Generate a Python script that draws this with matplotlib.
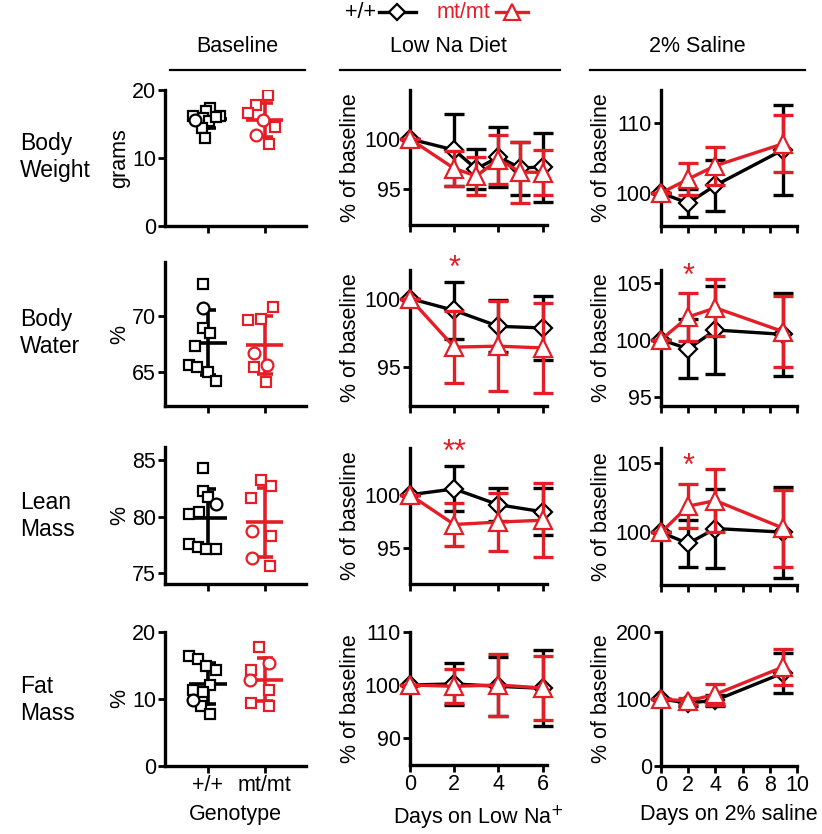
import matplotlib
matplotlib.use("Agg")
import matplotlib.pyplot as plt
import numpy as np
from matplotlib.lines import Line2D

plt.rcParams['font.family'] = ['Liberation Sans', 'DejaVu Sans']
RED = '#E41E26'
BLK = '#000000'
W, H = 822, 834

# ---------------- Data ----------------
genotypes = ['+/+', 'mt/mt']
# Baseline scatter (values, jitter offsets); squares and circles
bw_wt_sq = [17.4, 16.9, 16.2, 16.2, 15.9, 15.5, 14.4, 12.9, 16.0]
bw_wt_sq_dx = [0.03, -0.04, 0.21, -0.26, -0.08, 0.02, -0.11, -0.05, 0.14]
bw_wt_ci = [15.6]
bw_wt_ci_dx = [-0.23]
bw_mt_sq = [19.3, 17.8, 16.6, 14.6, 12.1]
bw_mt_sq_dx = [0.06, -0.15, -0.29, 0.18, 0.07]
bw_mt_ci = [15.6, 13.4]
bw_mt_ci_dx = [-0.03, -0.16]

wa_wt_sq = [72.8, 68.9, 68.5, 67.3, 65.6, 65.4, 65.0, 64.2]
wa_wt_sq_dx = [-0.08, -0.08, 0.03, -0.23, -0.33, -0.19, 0.0, 0.14]
wa_wt_ci = [70.7]
wa_wt_ci_dx = [-0.08]
wa_mt_sq = [70.8, 69.7, 69.6, 65.4, 64.1]
wa_mt_sq_dx = [0.15, -0.06, -0.29, -0.18, 0.03]
wa_mt_ci = [66.7, 65.6]
wa_mt_ci_dx = [-0.18, 0.04]

le_wt_sq = [84.3, 82.3, 81.7, 80.2, 80.4, 77.6, 77.3, 77.1, 77.1]
le_wt_sq_dx = [-0.08, -0.08, 0.0, -0.33, -0.16, -0.33, -0.17, -0.04, 0.14]
le_wt_ci = [81.1]
le_wt_ci_dx = [0.15]
le_mt_sq = [83.2, 82.7, 81.6, 78.3, 75.6]
le_mt_sq_dx = [-0.06, 0.12, -0.24, 0.12, 0.10]
le_mt_ci = [78.7, 76.3]
le_mt_ci_dx = [-0.23, -0.23]

fa_wt_sq = [16.4, 16.0, 15.0, 14.4, 12.1, 11.3, 11.0, 8.9, 7.7]
fa_wt_sq_dx = [-0.33, -0.18, -0.04, 0.14, 0.03, -0.27, -0.08, -0.12, 0.03]
fa_wt_ci = [9.9]
fa_wt_ci_dx = [-0.27]
fa_mt_sq = [17.7, 14.3, 11.4, 9.4, 9.0]
fa_mt_sq_dx = [-0.09, -0.24, 0.08, -0.24, 0.08]
fa_mt_ci = [15.4, 12.9]
fa_mt_ci_dx = [0.08, -0.26]

# Low Na diet time courses
lowna_days_bw = [0, 2, 3, 4, 5, 6]
lowna_days = [0, 2, 4, 6]
bw_lowna_wt = [100, 98.9, 97.0, 98.2, 97.1, 97.2]
bw_lowna_wt_err = [0, 3.6, 2.0, 3.0, 2.65, 3.45]
bw_lowna_mt = [100, 97.05, 96.3, 97.95, 96.7, 96.65]
bw_lowna_mt_err = [0, 1.75, 1.9, 2.45, 3.05, 2.25]

wa_lowna_wt = [100, 99.13, 97.96, 97.84]
wa_lowna_wt_err = [0, 2.07, 1.9, 2.33]
wa_lowna_mt = [100, 96.43, 96.5, 96.37]
wa_lowna_mt_err = [0, 2.63, 3.3, 3.3]

le_lowna_wt = [100, 100.55, 99.06, 98.4]
le_lowna_wt_err = [0, 2.12, 1.57, 2.2]
le_lowna_mt = [100, 97.2, 97.43, 97.6]
le_lowna_mt_err = [0, 2.0, 2.72, 3.5]

fa_lowna_wt = [100, 100.2, 99.75, 99.37]
fa_lowna_wt_err = [0, 3.9, 5.6, 7.2]
fa_lowna_mt = [100, 99.75, 100.0, 99.43]
fa_lowna_mt_err = [0, 3.2, 5.85, 6.04]

# 2% saline time courses
saline_days = [0, 2, 4, 9]
bw_sal_wt = [100, 98.57, 101.1, 106.2]
bw_sal_wt_err = [0, 2.05, 3.64, 6.43]
bw_sal_mt = [100, 102.0, 103.9, 107.05]
bw_sal_mt_err = [0, 2.26, 2.74, 4.05]

wa_sal_wt = [100, 99.2, 100.85, 100.47]
wa_sal_wt_err = [0, 2.57, 3.85, 3.65]
wa_sal_mt = [100, 101.99, 102.79, 100.7]
wa_sal_mt_err = [0, 2.13, 2.5, 3.12]

le_sal_wt = [100, 99.2, 100.28, 100.02]
le_sal_wt_err = [0, 1.69, 2.84, 3.29]
le_sal_mt = [100, 101.9, 102.3, 100.3]
le_sal_mt_err = [0, 1.6, 2.27, 2.8]

fa_sal_wt = [100, 94, 98, 139]
fa_sal_wt_err = [0, 5, 8, 30]
fa_sal_mt = [100, 97, 107, 148]
fa_sal_mt_err = [0, 5, 16, 27]

row_names = ['Body\nWeight', 'Body\nWater', 'Lean\nMass', 'Fat\nMass']

# ---------------- Figure ----------------
fig = plt.figure(figsize=(W / 100, H / 100), dpi=100)
FS = 15.5
FS_ROW = 16.5

def add_ax(l, r, top, bot):
    return fig.add_axes([l / W, 1 - bot / H, (r - l) / W, (bot - top) / H])

def style(ax, yticks, ylim, xlim, xticks):
    for s in ['top', 'right']:
        ax.spines[s].set_visible(False)
    for s in ['left', 'bottom']:
        ax.spines[s].set_linewidth(2.4)
    ax.set_ylim(*ylim)
    ax.set_xlim(*xlim)
    ax.set_yticks(yticks)
    ax.set_xticks(xticks)
    ax.tick_params(width=2.0, length=5, labelsize=FS, pad=1.5, direction='out')

# ---- Column 1 (baseline scatter) ----
col1 = [
    (90, 226, (0, 20), [0, 10, 20], 'grams', bw_wt_sq, bw_wt_sq_dx, bw_wt_ci, bw_wt_ci_dx,
     bw_mt_sq, bw_mt_sq_dx, bw_mt_ci, bw_mt_ci_dx),
    (262, 406, (61.96, 74.8), [65, 70], '%', wa_wt_sq, wa_wt_sq_dx, wa_wt_ci, wa_wt_ci_dx,
     wa_mt_sq, wa_mt_sq_dx, wa_mt_ci, wa_mt_ci_dx),
    (447, 584, (74.03, 86.15), [75, 80, 85], '%', le_wt_sq, le_wt_sq_dx, le_wt_ci, le_wt_ci_dx,
     le_mt_sq, le_mt_sq_dx, le_mt_ci, le_mt_ci_dx),
    (632, 766, (0, 20), [0, 10, 20], '%', fa_wt_sq, fa_wt_sq_dx, fa_wt_ci, fa_wt_ci_dx,
     fa_mt_sq, fa_mt_sq_dx, fa_mt_ci, fa_mt_ci_dx),
]
for i, (top, bot, ylim, yt, ylab, wsq, wsqdx, wci, wcidx, msq, msqdx, mci, mcidx) in enumerate(col1):
    ax = add_ax(165, 306, top, bot)
    style(ax, yt, ylim, (0.245, 2.73), [1, 2])
    for xc, sq, sqdx, ci, cidx, col in [(1, wsq, wsqdx, wci, wcidx, BLK), (2, msq, msqdx, mci, mcidx, RED)]:
        allv = np.array(sq + ci)
        m, sd = allv.mean(), allv.std(ddof=1)
        ax.plot([xc - 0.33, xc + 0.33], [m, m], color=col, lw=2.6, zorder=2, solid_capstyle='butt')
        ax.plot([xc, xc], [m - sd, m + sd], color=col, lw=2.6, zorder=2)
        for yy in (m - sd, m + sd):
            ax.plot([xc - 0.14, xc + 0.14], [yy, yy], color=col, lw=2.6, zorder=2, solid_capstyle='butt')
        ax.plot(xc + np.array(sqdx), sq, 's', ms=7.5, mfc='white', mec=col, mew=1.6, ls='none', zorder=3)
        ax.plot(xc + np.array(cidx), ci, 'o', ms=8.5, mfc='white', mec=col, mew=1.6, ls='none', zorder=3)
    ax.set_ylabel(ylab, fontsize=FS, labelpad=1)
    if i == 3:
        ax.set_xticklabels(genotypes)
        ax.set_xlabel('Genotype', fontsize=FS, labelpad=6)
    else:
        ax.set_xticklabels([])
    fig.text(20 / W, 1 - [157, 333, 516, 700][i] / H, row_names[i], fontsize=FS_ROW,
             ha='left', va='center', linespacing=1.25)

# ---- Line panels ----
def line_panel(ax, days, wt, wte, mt, mte):
    ax.errorbar(days, wt, yerr=wte, fmt='none', ecolor=BLK, elinewidth=2.4, capsize=7,
                capthick=2.4, zorder=2, clip_on=False)
    ax.plot(days, wt, color=BLK, lw=2.4, marker='D', ms=9, mfc='white', mec=BLK, mew=1.6,
            zorder=3, clip_on=False)
    ax.errorbar(days, mt, yerr=mte, fmt='none', ecolor=RED, elinewidth=2.4, capsize=7,
                capthick=2.4, zorder=4, clip_on=False)
    ax.plot(days, mt, color=RED, lw=2.4, marker='^', ms=13, mfc='white', mec=RED, mew=1.6,
            zorder=5, clip_on=False)

col2 = [
    (90, 225, (91.4, 104.9), [95, 100], lowna_days_bw, bw_lowna_wt, bw_lowna_wt_err, bw_lowna_mt, bw_lowna_mt_err, None),
    (270, 406, (92.1, 102.1), [95, 100], lowna_days, wa_lowna_wt, wa_lowna_wt_err, wa_lowna_mt, wa_lowna_mt_err, ('*', 102.2)),
    (448, 584, (91.6, 104.4), [95, 100], lowna_days, le_lowna_wt, le_lowna_wt_err, le_lowna_mt, le_lowna_mt_err, ('**', 103.9)),
    (632, 765, (84.9, 110), [90, 100, 110], lowna_days, fa_lowna_wt, fa_lowna_wt_err, fa_lowna_mt, fa_lowna_mt_err, None),
]
for i, (top, bot, ylim, yt, d, wt, wte, mt, mte, star) in enumerate(col2):
    ax = add_ax(410, 547, top, bot)
    style(ax, yt, ylim, (0, 6.2), [0, 2, 4, 6])
    line_panel(ax, d, wt, wte, mt, mte)
    ax.set_ylabel('% of baseline', fontsize=FS, labelpad=3)
    if star:
        ax.text(2, star[1], star[0], color=RED, fontsize=22, ha='center', va='center', clip_on=False)
    if i == 3:
        ax.set_xlabel('Days on Low Na$^{+}$', fontsize=FS, labelpad=6)
    else:
        ax.set_xticklabels([])

col3 = [
    (90, 226, (95.3, 114.7), [100, 110], bw_sal_wt, bw_sal_wt_err, bw_sal_mt, bw_sal_mt_err, None),
    (270, 406, (94.2, 106.1), [95, 100, 105], wa_sal_wt, wa_sal_wt_err, wa_sal_mt, wa_sal_mt_err, ('*', 105.5)),
    (448, 585, (96.2, 106.1), [100, 105], le_sal_wt, le_sal_wt_err, le_sal_mt, le_sal_mt_err, ('*', 104.7)),
    (632, 766, (0, 200), [0, 100, 200], fa_sal_wt, fa_sal_wt_err, fa_sal_mt, fa_sal_mt_err, None),
]
for i, (top, bot, ylim, yt, wt, wte, mt, mte, star) in enumerate(col3):
    ax = add_ax(661, 797, top, bot)
    style(ax, yt, ylim, (0, 10), [0, 2, 4, 6, 8, 10])
    line_panel(ax, saline_days, wt, wte, mt, mte)
    ax.set_ylabel('% of baseline', fontsize=FS, labelpad=3)
    if star:
        ax.text(2, star[1], star[0], color=RED, fontsize=22, ha='center', va='center', clip_on=False)
    if i == 3:
        ax.set_xlabel('Days on 2% saline', fontsize=FS, labelpad=6)
    else:
        ax.set_xticklabels([])

# ---- Column headers ----
for txt, cx, x0, x1 in [('Baseline', 237, 170, 305), ('Low Na Diet', 448, 340, 560), ('2% Saline', 697, 590, 805)]:
    fig.text(cx / W, 1 - 46 / H, txt, fontsize=FS, ha='center', va='center')
    fig.add_artist(Line2D([x0 / W, x1 / W], [1 - 70 / H, 1 - 70 / H], color=BLK, lw=1.6))

# ---- Legend ----
fig.text(376 / W, 1 - 13 / H, '+/+', fontsize=FS, ha='right', va='center', color=BLK)
fig.add_artist(Line2D([379 / W, 416 / W], [1 - 12 / H, 1 - 12 / H], color=BLK, lw=2.4))
fig.add_artist(Line2D([397 / W], [1 - 12 / H], marker='D', ms=8, mfc='white', mec=BLK, mew=1.6, ls='none'))
fig.text(490 / W, 1 - 13 / H, 'mt/mt', fontsize=FS, ha='right', va='center', color=RED)
fig.add_artist(Line2D([496 / W, 528 / W], [1 - 12 / H, 1 - 12 / H], color=RED, lw=2.4))
fig.add_artist(Line2D([512 / W], [1 - 12 / H], marker='^', ms=11, mfc='white', mec=RED, mew=1.6, ls='none'))

fig.savefig('out.png', dpi=100)
